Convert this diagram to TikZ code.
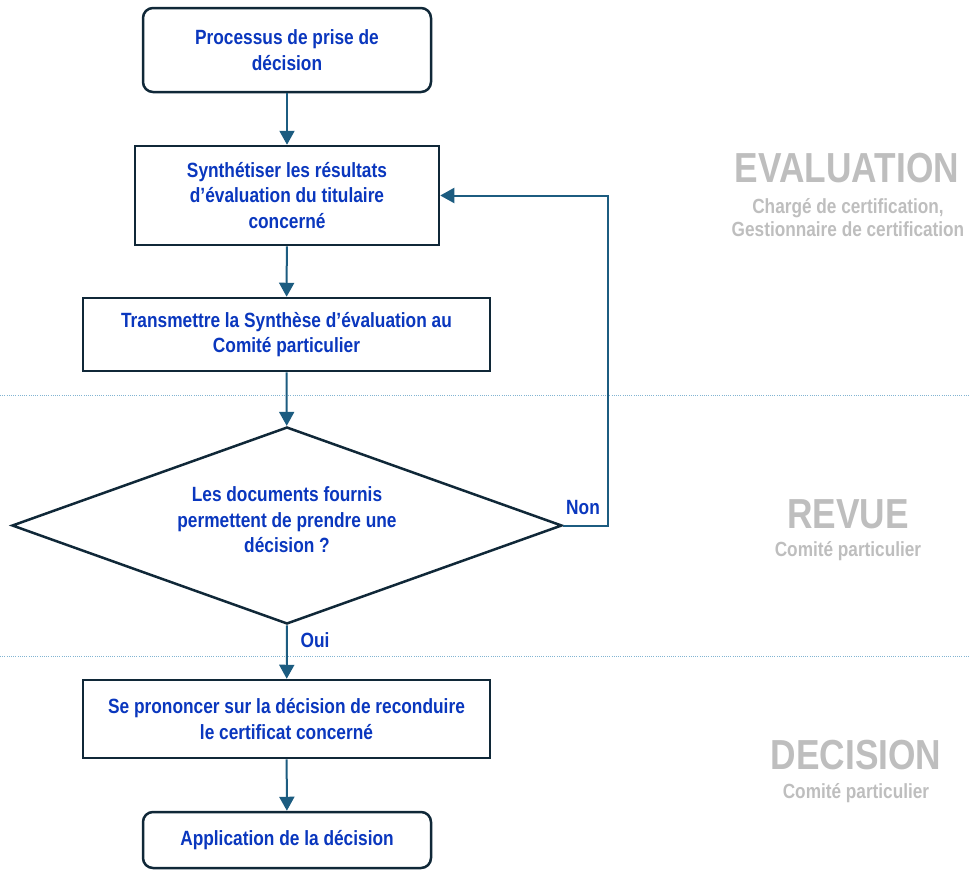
\documentclass[tikz,border=0pt]{standalone}
\usepackage{fontspec}
\setmainfont{Liberation Sans}[FakeStretch=0.84]
\usetikzlibrary{shapes.geometric,arrows.meta}

\definecolor{txtblue}{RGB}{10,55,190}
\definecolor{flowline}{RGB}{28,92,128}
\definecolor{boxedge}{RGB}{16,40,56}
\definecolor{phasegray}{RGB}{190,190,190}
\definecolor{sepblue}{RGB}{130,180,210}

\tikzset{
  boxtext/.style={font=\bfseries\fontsize{20.6}{25.5}\selectfont, text=txtblue, align=center},
  roundbox/.style={boxtext, draw=boxedge, line width=2.5pt, rounded corners=10pt, fill=white},
  squarebox/.style={boxtext, draw=boxedge, line width=2.5pt, fill=white},
  choice/.style={boxtext, draw=boxedge, line width=2.5pt, diamond, aspect=2.8, inner sep=0pt,
                 minimum width=550pt, minimum height=197pt},
  flow/.style={draw=flowline, line width=2pt, -{Triangle[length=14pt,width=15pt]}},
  branch/.style={font=\bfseries\fontsize{20.6}{22}\selectfont, text=txtblue},
  phase/.style={font=\bfseries\fontsize{42}{44}\selectfont, text=phasegray},
  role/.style={font=\bfseries\fontsize{20.5}{23}\selectfont, text=phasegray, align=center},
  separator/.style={draw=sepblue, line width=1pt, dash pattern=on 1pt off 1.2pt}
}

\begin{document}
\begin{tikzpicture}[x=1pt, y=-1pt]
  \useasboundingbox (0,0) rectangle (970,871);

  % phase separators
  \coordinate (s1l) at (0,395);   \coordinate (s1r) at (970,395);
  \coordinate (s2l) at (0,656);   \coordinate (s2r) at (970,656);
  \draw[separator] (s1l) -- (s1r);
  \draw[separator] (s2l) -- (s2r);

  % process steps
  \node[roundbox, minimum width=288pt, minimum height=84pt] (start) at (287,50)
    {Processus de prise de\\décision};
  \node[squarebox, minimum width=304pt, minimum height=99pt] (synth) at (287,195.5)
    {Synthétiser les résultats\\d’évaluation du titulaire\\concerné};
  \node[squarebox, minimum width=407pt, minimum height=73pt] (transmit) at (286.5,334.5)
    {Transmettre la Synthèse d’évaluation au\\Comité particulier};
  \node[choice] (check) at (287,525.5) {};
  \node[boxtext] (checktext) at (287,520) {Les documents fournis\\permettent de prendre une\\décision ?};
  \node[squarebox, minimum width=407pt, minimum height=78pt] (rule) at (286.5,719)
    {Se prononcer sur la décision de reconduire\\le certificat concerné};
  \node[roundbox, minimum width=288pt, minimum height=56pt] (apply) at (287,840)
    {Application de la décision};

  % main flow
  \draw[flow] (start) -- (synth);
  \draw[flow] (synth) -- (transmit);
  \draw[flow] (transmit) -- (check);
  \draw[flow] (check.south) -- (rule);
  \draw[flow] (rule) -- (apply);

  % loop back when documents are insufficient
  \coordinate (loop) at (608,525.5);
  \draw[flow] (check.east) -- (loop) |- (synth.east);
  \node[branch] (non) at (583,508) {Non};
  \node[branch] (oui) at (315,640) {Oui};

  % phase labels
  \node[phase] (eval) at (847,168) {EVALUATION};
  \node[role] (evalrole) at (848,218) {Chargé de certification,\\Gestionnaire de certification};
  \node[phase] (rev) at (848,514) {REVUE};
  \node[role] (revrole) at (848,551) {Comité particulier};
  \node[phase] (dec) at (856,755) {DECISION};
  \node[role] (decrole) at (856,793) {Comité particulier};
\end{tikzpicture}
\end{document}
